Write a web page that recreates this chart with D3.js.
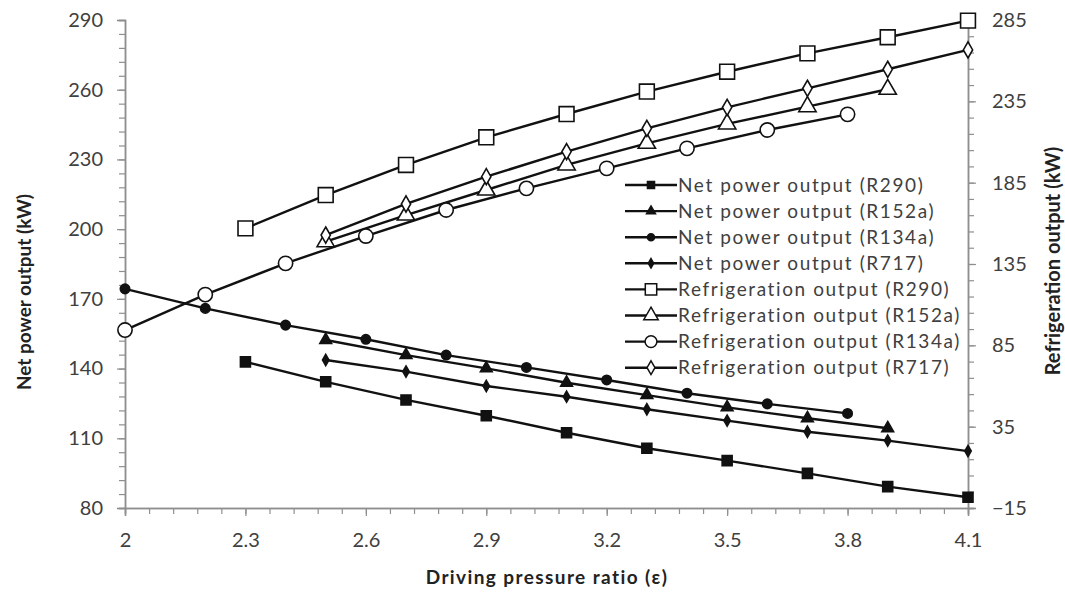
<!DOCTYPE html>
<html>
<head>
<meta charset="utf-8">
<script src="https://cdn.jsdelivr.net/npm/d3@7"></script>
<style>
  body { margin: 0; background: #fff; }
  svg { display: block; }
</style>
</head>
<body>
<div id="chart"></div>
<script>
// driving pressure ratio for each series
var xNetR290 = [2.3, 2.5, 2.7, 2.9, 3.1, 3.3, 3.5, 3.7, 3.9, 4.1];
var xR152a = [2.5, 2.7, 2.9, 3.1, 3.3, 3.5, 3.7, 3.9];
var xR134a = [2.0, 2.2, 2.4, 2.6, 2.8, 3.0, 3.2, 3.4, 3.6, 3.8];
var xR717 = [2.5, 2.7, 2.9, 3.1, 3.3, 3.5, 3.7, 3.9, 4.1];

// net power output (kW), left axis
var netR290 = [142.9, 134.3, 126.5, 119.7, 112.4, 105.7, 100.4, 94.9, 89.2, 84.6];
var netR152a = [152.3, 145.8, 140.1, 133.9, 128.6, 123.3, 118.6, 114.3];
var netR134a = [174.3, 165.9, 158.7, 152.6, 145.8, 140.5, 135.1, 129.4, 124.8, 120.7];
var netR717 = [143.7, 138.7, 132.5, 127.9, 122.5, 117.6, 112.8, 109.0, 104.5];

// refrigeration output (kW), right axis
var refR290 = [156.9, 177.4, 195.9, 212.9, 227.2, 241.0, 253.2, 264.5, 274.4, 284.6];
var refR152a = [148.7, 165.1, 180.5, 195.9, 209.2, 221.1, 231.7, 242.4];
var refR134a = [94.4, 116.2, 135.4, 152.2, 168.2, 181.5, 193.8, 206.1, 217.4, 227.0];
var refR717 = [152.8, 171.9, 188.7, 204.1, 218.4, 231.3, 243.0, 254.7, 266.6];

// ticks
var xTicks = [2, 2.3, 2.6, 2.9, 3.2, 3.5, 3.8, 4.1];
var leftTicks = [80, 110, 140, 170, 200, 230, 260, 290];
var rightTicks = [-15, 35, 85, 135, 185, 235, 285];

var _width = 1065, _height = 592;
var _axisColor = '#8f8f8f',
    _textColor = '#404040',
    _font = 'Lato, "Open Sans", sans-serif';

var x = d3.scaleLinear().domain([2, 4.1]).range([125, 968]);
var yL = d3.scaleLinear().domain([80, 290]).range([508, 20]);
var yR = d3.scaleLinear().domain([-15, 285]).range([508, 20]);

// marker styles: filled for net power, hollow for refrigeration
var series = [
    {name: 'Net power output (R290)', xs: xNetR290, ys: netR290, y: yL, sym: d3.symbolSquare, size: 100, legSize: 50, fill: '#111'},
    {name: 'Net power output (R152a)', xs: xR152a, ys: netR152a, y: yL, sym: d3.symbolTriangle, size: 60, legSize: 35, fill: '#111'},
    {name: 'Net power output (R134a)', xs: xR134a, ys: netR134a, y: yL, sym: d3.symbolCircle, size: 70, legSize: 40, fill: '#111'},
    {name: 'Net power output (R717)', xs: xR717, ys: netR717, y: yL, sym: d3.symbolDiamond, size: 36, legSize: 26, fill: '#111'},
    {name: 'Refrigeration output (R290)', xs: xNetR290, ys: refR290, y: yR, sym: d3.symbolSquare, size: 220, legSize: 130, fill: '#fff'},
    {name: 'Refrigeration output (R152a)', xs: xR152a, ys: refR152a, y: yR, sym: d3.symbolTriangle, size: 130, legSize: 90, fill: '#fff'},
    {name: 'Refrigeration output (R134a)', xs: xR134a, ys: refR134a, y: yR, sym: d3.symbolCircle, size: 160, legSize: 110, fill: '#fff'},
    {name: 'Refrigeration output (R717)', xs: xR717, ys: refR717, y: yR, sym: d3.symbolDiamond, size: 75, legSize: 55, fill: '#fff'}
];

var svg = d3.select('#chart').append('svg')
    .attr('width', _width)
    .attr('height', _height);

function styleAxis(g){
    g.select('.domain').attr('stroke', _axisColor).attr('stroke-width', 1.5);
    g.selectAll('.tick line').attr('stroke', _axisColor).attr('stroke-width', 1.2);
    g.selectAll('text')
        .attr('fill', _textColor)
        .style('font-family', _font)
        .style('font-size', '20px');
}

// minor ticks first (no labels)
svg.append('g')
    .attr('transform', 'translate(125,0)')
    .call(d3.axisLeft(yL).tickValues(d3.range(0, 36).map(function(i){ return 80 + i * 6; })).tickSize(6).tickFormat(''))
    .call(styleAxis);
svg.append('g')
    .attr('transform', 'translate(968,0)')
    .call(d3.axisRight(yR).tickValues(d3.range(0, 31).map(function(i){ return -15 + i * 10; })).tickSize(6).tickFormat(''))
    .call(styleAxis);
svg.append('g')
    .attr('transform', 'translate(0,508)')
    .call(d3.axisBottom(x).tickValues(d3.range(0, 36).map(function(i){ return 2 + i * 0.06; })).tickSize(6).tickFormat(''))
    .call(styleAxis);

// major ticks with labels
svg.append('g')
    .attr('transform', 'translate(125,0)')
    .call(d3.axisLeft(yL).tickValues(leftTicks).tickSize(8).tickPadding(14).tickFormat(d3.format('d')))
    .call(styleAxis);
svg.append('g')
    .attr('transform', 'translate(968,0)')
    .call(d3.axisRight(yR).tickValues(rightTicks).tickSize(8).tickPadding(16).tickFormat(d3.format('d')))
    .call(styleAxis);
svg.append('g')
    .attr('transform', 'translate(0,508)')
    .call(d3.axisBottom(x).tickValues(xTicks).tickSize(8).tickPadding(17).tickFormat(function(d){ return String(+d.toFixed(1)); }))
    .call(styleAxis);

// axis titles
svg.append('text')
    .attr('x', 547).attr('y', 584)
    .attr('text-anchor', 'middle')
    .style('font-family', _font).style('font-size', '19px').style('font-weight', 'bold')
    .style('letter-spacing', '1.4px')
    .attr('fill', '#222')
    .text('Driving pressure ratio (\u03b5)');
svg.append('text')
    .attr('transform', 'translate(31,292) rotate(-90)')
    .attr('text-anchor', 'middle')
    .style('font-family', _font).style('font-size', '19px').style('font-weight', 'bold')
    .attr('fill', '#222')
    .text('Net power output (kW)');
svg.append('text')
    .attr('transform', 'translate(1060,261) rotate(-90)')
    .attr('text-anchor', 'middle')
    .style('font-family', _font).style('font-size', '20px').style('font-weight', 'bold')
    .attr('fill', '#222')
    .text('Refrigeration output (kW)');

// series lines and markers
var plot = svg.append('g');
series.forEach(function(s){
    var pts = s.xs.map(function(v, i){ return [x(v), s.y(s.ys[i])]; });
    plot.append('path')
        .attr('d', d3.line()(pts))
        .attr('fill', 'none')
        .attr('stroke', '#111')
        .attr('stroke-width', 2.4);
    plot.selectAll(null)
        .data(pts)
        .enter().append('path')
            .attr('transform', function(d){ return 'translate(' + d[0] + ',' + d[1] + ')'; })
            .attr('d', d3.symbol().type(s.sym).size(s.size))
            .attr('fill', s.fill)
            .attr('stroke', '#111')
            .attr('stroke-width', 1.6);
});

// legend
var legend = svg.append('g').attr('transform', 'translate(625,185)');
var rows = legend.selectAll('g')
    .data(series)
    .enter().append('g')
        .attr('transform', function(d, i){ return 'translate(0,' + (i * 26.1) + ')'; });
rows.append('line')
    .attr('x1', 0).attr('x2', 52)
    .attr('stroke', '#111').attr('stroke-width', 2.4);
rows.append('path')
    .attr('transform', 'translate(26,0)')
    .attr('d', function(d){ return d3.symbol().type(d.sym).size(d.legSize)(); })
    .attr('fill', function(d){ return d.fill; })
    .attr('stroke', '#111')
    .attr('stroke-width', 1.5);
rows.append('text')
    .attr('x', 53).attr('dy', '0.35em')
    .attr('fill', _textColor)
    .style('font-family', _font).style('font-size', '19px').style('letter-spacing', '1.6px')
    .text(function(d){ return d.name; });
</script>
</body>
</html>
